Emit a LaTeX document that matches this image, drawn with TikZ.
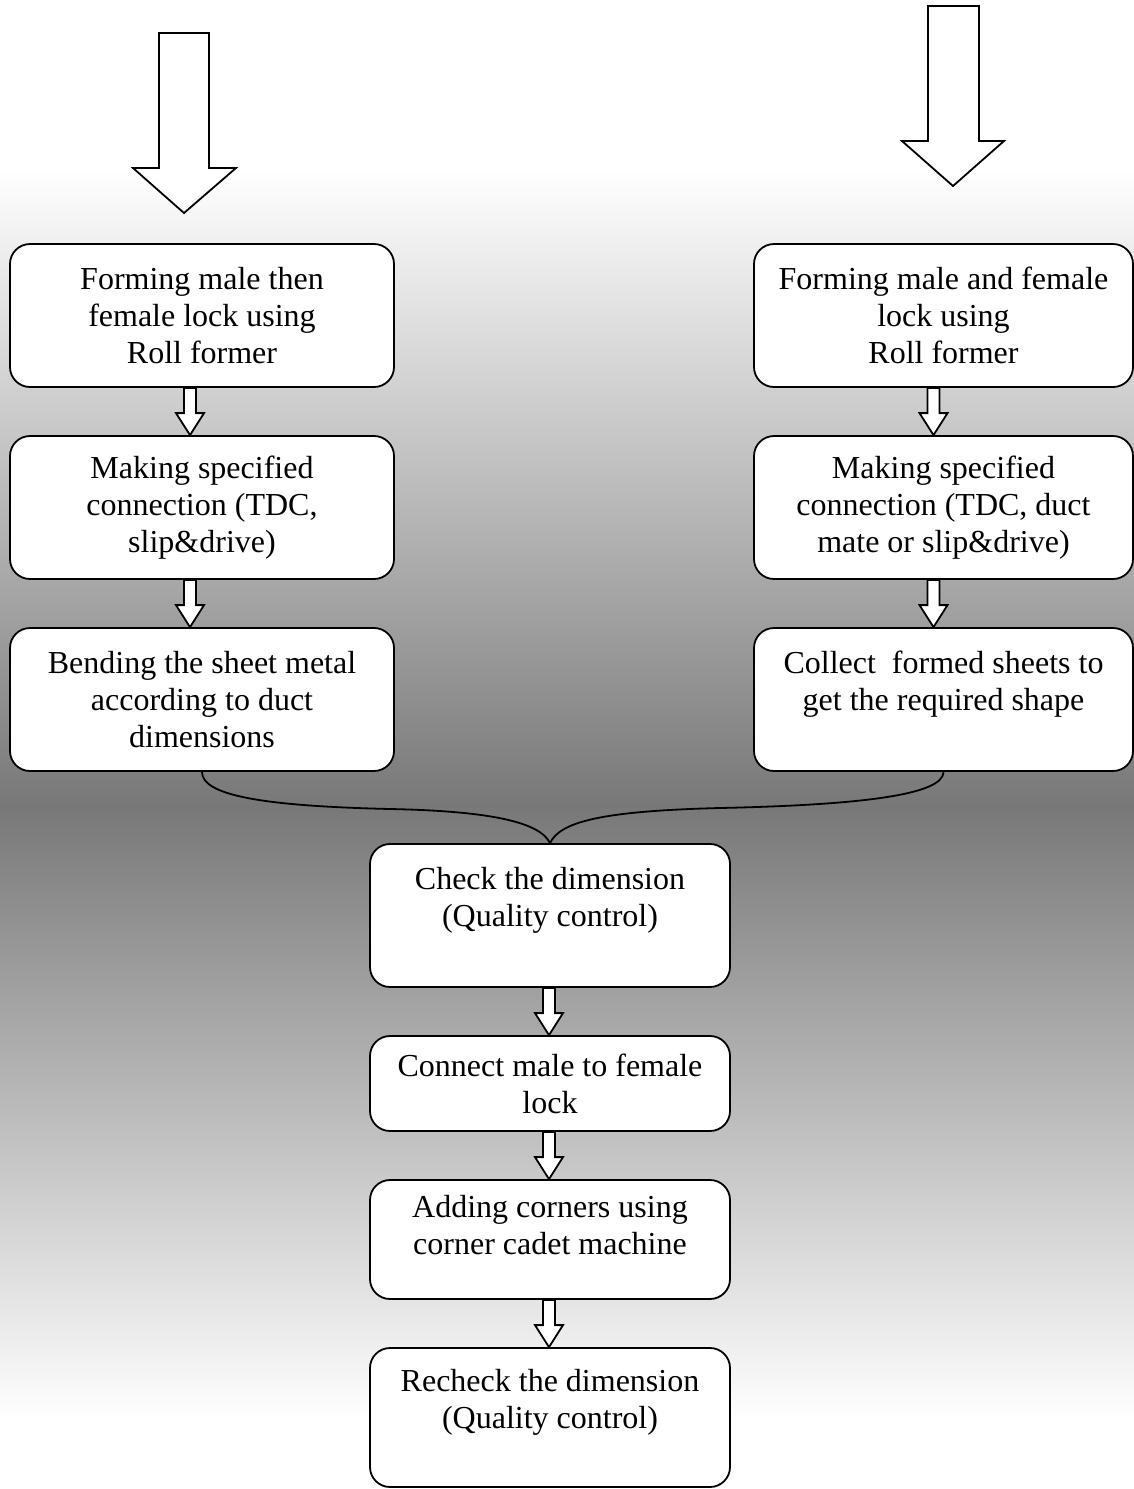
\documentclass[tikz,border=0pt]{standalone}
\usepackage{fontspec}
\setmainfont{Liberation Serif}
\usetikzlibrary{calc}
\definecolor{bggray}{gray}{0.47}
\tikzset{
  box/.style={draw=black, line width=1.8pt, fill=white, rounded corners=20pt,
    align=center, font=\fontsize{32}{37}\selectfont, inner sep=0pt},
  lbox/.style={box, minimum width=384pt, minimum height=143pt},
  rbox/.style={box, minimum width=379pt, minimum height=143pt},
  cbox/.style={box, minimum width=360pt},
  arrowline/.style={draw=black, fill=white, line width=1.8pt, line join=miter},
  conn/.style={draw=black, line width=1.8pt}
}
% hollow block arrow from anchor #1 down to anchor #2
% #3 shaft half width, #4 head half width, #5 head length
\newcommand\hollowarrow[5]{%
  \path[arrowline] let \p1=(#1), \p2=(#2) in
    ({\x1-#3pt},{\y1}) -- ({\x1-#3pt},{\y2+#5pt}) -- ({\x1-#4pt},{\y2+#5pt})
    -- ({\x1},{\y2}) -- ({\x1+#4pt},{\y2+#5pt}) -- ({\x1+#3pt},{\y2+#5pt})
    -- ({\x1+#3pt},{\y1}) -- cycle;}
\begin{document}
\begin{tikzpicture}[x=1pt,y=-1pt]
\useasboundingbox (0,0) rectangle (1134,1489);
% background
\fill[white] (0,0) rectangle (1134,170);
\shade[top color=white, bottom color=bggray] (0,170) rectangle (1134,806);
\shade[top color=bggray, bottom color=white] (0,805) rectangle (1134,1420);
\fill[white] (0,1419) rectangle (1134,1489);

% big top arrows
\path[arrowline] (159,33) -- (159,168) -- (133,168) -- (184,213) -- (236,168)
  -- (209,168) -- (209,33) -- cycle;
\path[arrowline] (928,6) -- (928,141) -- (902,141) -- (953,186) -- (1004,141)
  -- (979,141) -- (979,6) -- cycle;

% left column
\node[lbox] (L1) at (202,315.5) {Forming male then\\female lock using\\Roll former};
\node[lbox] (L2) at (202,507.5) {Making specified\\connection (TDC,\\slip\&drive)};
\node[lbox] (L3) at (202,699.5) {Bending the sheet metal\\according to duct\\dimensions};

% right column
\node[rbox] (R1) at (943.5,315.5) {Forming male and female\\lock using\\Roll former};
\node[rbox] (R2) at (943.5,507.5) {Making specified\\connection (TDC, duct\\mate or slip\&drive)};
\node[rbox] (R3) at (943.5,699.5) {Collect~ formed sheets to\\get the required shape\\~};

% centre column
\node[cbox, minimum height=143pt] (C1) at (550,915.5) {Check the dimension\\(Quality control)\\~};
\node[cbox, minimum height=95pt] (C2) at (550,1083.5) {Connect male to female\\lock};
\node[cbox, minimum height=119pt] (C3) at (550,1239.5) {Adding corners using\\corner cadet machine\\[-8pt]~};
\node[cbox, minimum height=139pt] (C4) at (550,1417.5) {Recheck the dimension\\(Quality control)\\~};

% small hollow arrows
\hollowarrow{$(L1.south)+(-12,0)$}{$(L2.north)+(-12,0)$}{6}{14}{22}
\hollowarrow{$(L2.south)+(-12,0)$}{$(L3.north)+(-12,0)$}{6}{14}{22}
\hollowarrow{$(R1.south)+(-10,0)$}{$(R2.north)+(-10,0)$}{6}{14}{22}
\hollowarrow{$(R2.south)+(-10,0)$}{$(R3.north)+(-10,0)$}{6}{14}{22}
\hollowarrow{$(C1.south)+(-1,0)$}{$(C2.north)+(-1,0)$}{6}{14}{22}
\hollowarrow{$(C2.south)+(-1,0)$}{$(C3.north)+(-1,0)$}{6}{14}{22}
\hollowarrow{$(C3.south)+(-1,0)$}{$(C4.north)+(-1,0)$}{6}{14}{22}

% brace connector
\coordinate (lmid) at (390,809);
\coordinate (rmid) at (720,808);
\draw[conn] (L3.south) .. controls +(0,23) and +(-130,-3) .. (lmid)
  .. controls +(100,2) and +(-10,-21) .. (C1.north);
\draw[conn] (R3.south) .. controls +(0,23) and +(140,-3) .. (rmid)
  .. controls +(-120,3) and +(10,-21) .. (C1.north);
\end{tikzpicture}
\end{document}
